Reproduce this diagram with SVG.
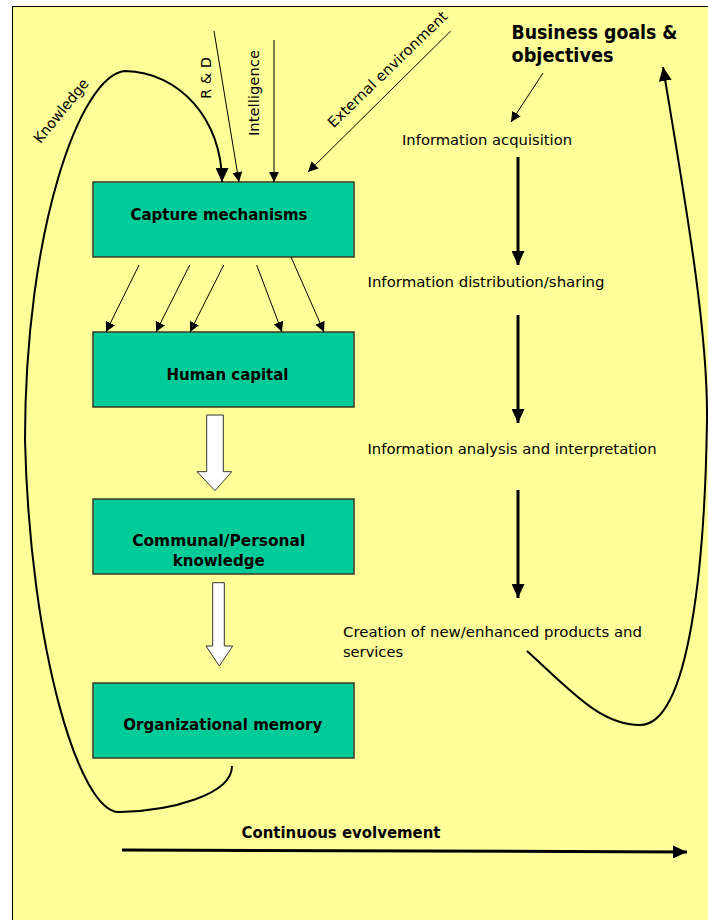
<svg xmlns="http://www.w3.org/2000/svg" width="708" height="920" viewBox="0 0 708 920">
  <defs>
    <style>
      .bg { fill: #FFFF99; stroke: #000; stroke-width: 1; }
      .box { fill: #00CC99; stroke: #3a3a2a; stroke-width: 1.5; }
      .lbl { font-family: "DejaVu Sans", Verdana, sans-serif; font-size: 14.5px; fill: #000; }
      .blbl { font-family: "DejaVu Sans", Verdana, sans-serif; font-size: 15.5px; font-weight: bold; fill: #000; }
      .thin { fill: none; stroke: #000; stroke-width: 1; }
      .mid { fill: none; stroke: #000; stroke-width: 2; }
      .thick { fill: none; stroke: #000; stroke-width: 3; }
      .block { fill: #fff; stroke: #333; stroke-width: 1; }
    </style>
    <marker id="ah" markerUnits="userSpaceOnUse" markerWidth="10" markerHeight="10" refX="10" refY="5" orient="auto">
      <path d="M0,0 L10,5 L0,10 z" fill="#000"/>
    </marker>
    <marker id="ahb" markerUnits="userSpaceOnUse" markerWidth="14" markerHeight="13" refX="14" refY="6.5" orient="auto">
      <path d="M0,0 L14,6.5 L0,13 z" fill="#000"/>
    </marker>
  </defs>

  <!-- page -->
  <rect class="bg" x="12.5" y="6.5" width="720" height="940"/>

  <!-- nodes -->
  <g id="capture">
    <rect class="box" x="93" y="182" width="261" height="75"/>
    <text class="blbl" x="219" y="219.5" text-anchor="middle" textLength="177" lengthAdjust="spacingAndGlyphs">Capture mechanisms</text>
  </g>
  <g id="human">
    <rect class="box" x="93" y="332" width="261" height="75"/>
    <text class="blbl" x="227.5" y="379.5" text-anchor="middle" textLength="122" lengthAdjust="spacingAndGlyphs">Human capital</text>
  </g>
  <g id="communal">
    <rect class="box" x="93" y="499" width="261" height="75"/>
    <text class="blbl" x="218.7" y="546" text-anchor="middle" textLength="173" lengthAdjust="spacingAndGlyphs">Communal/Personal</text>
    <text class="blbl" x="218.7" y="566" text-anchor="middle" textLength="92" lengthAdjust="spacingAndGlyphs">knowledge</text>
  </g>
  <g id="orgmemory">
    <rect class="box" x="93" y="683" width="261" height="75"/>
    <text class="blbl" x="222.8" y="729.5" text-anchor="middle" textLength="199" lengthAdjust="spacingAndGlyphs">Organizational memory</text>
  </g>

  <g id="goals">
    <text font-family="DejaVu Sans, Verdana, sans-serif" font-size="19" font-weight="bold" x="511.5" y="38.5" textLength="166" lengthAdjust="spacingAndGlyphs">Business goals &amp;</text>
    <text font-family="DejaVu Sans, Verdana, sans-serif" font-size="19" font-weight="bold" x="511.5" y="61.5" textLength="102" lengthAdjust="spacingAndGlyphs">objectives</text>
  </g>
  <g id="acquisition">
    <text class="lbl" x="402" y="145" textLength="170" lengthAdjust="spacingAndGlyphs">Information acquisition</text>
  </g>
  <g id="distribution">
    <text class="lbl" x="367.5" y="286.5" textLength="237" lengthAdjust="spacingAndGlyphs">Information distribution/sharing</text>
  </g>
  <g id="analysis">
    <text class="lbl" x="367.5" y="454" textLength="289" lengthAdjust="spacingAndGlyphs">Information analysis and interpretation</text>
  </g>
  <g id="creation">
    <text class="lbl" x="343" y="636.5" textLength="299" lengthAdjust="spacingAndGlyphs">Creation of new/enhanced products and</text>
    <text class="lbl" x="343" y="656.5" textLength="60" lengthAdjust="spacingAndGlyphs">services</text>
  </g>

  <!-- connectors -->
  <g id="connectors">
    <!-- inputs into capture mechanisms -->
    <line class="thin" x1="214" y1="31" x2="239" y2="182" marker-end="url(#ah)"/>
    <line class="thin" x1="274" y1="40" x2="274" y2="182" marker-end="url(#ah)"/>
    <line class="thin" x1="450.7" y1="31" x2="308" y2="172" marker-end="url(#ah)"/>
    <text class="lbl" transform="translate(211,78) rotate(-90)" text-anchor="middle" textLength="42" lengthAdjust="spacingAndGlyphs">R &amp; D</text>
    <text class="lbl" transform="translate(259,93) rotate(-90)" text-anchor="middle" textLength="86" lengthAdjust="spacingAndGlyphs">Intelligence</text>
    <text class="lbl" transform="translate(391,73) rotate(-44)" text-anchor="middle" textLength="160" lengthAdjust="spacingAndGlyphs">External environment</text>

    <!-- knowledge feedback loop -->
    <path class="mid" d="M232,766 C232,795 170,811 120,812 C80,815 30,650 25,440 C25,230 80,75 125,71 C180,72 222,120 222,182" marker-end="url(#ahb)"/>
    <text class="lbl" transform="translate(65,114) rotate(-51)" text-anchor="middle" textLength="78" lengthAdjust="spacingAndGlyphs">Knowledge</text>

    <!-- capture mechanisms to human capital -->
    <line class="thin" x1="139" y1="265" x2="106" y2="332" marker-end="url(#ah)"/>
    <line class="thin" x1="189.7" y1="265" x2="156" y2="332" marker-end="url(#ah)"/>
    <line class="thin" x1="223.7" y1="265" x2="190" y2="332" marker-end="url(#ah)"/>
    <line class="thin" x1="256.7" y1="265" x2="282" y2="332" marker-end="url(#ah)"/>
    <line class="thin" x1="291" y1="257" x2="324" y2="332" marker-end="url(#ah)"/>

    <!-- block arrows -->
    <path class="block" d="M206.7,415 H223.3 V471.7 H231.7 L215,490.7 L197,471.7 H206.7 Z"/>
    <path class="block" d="M212.7,582.7 H224.3 V646 H232.7 L219.3,666 L206,646 H212.7 Z"/>

    <!-- information cycle -->
    <line class="thin" x1="543" y1="73" x2="511" y2="122" marker-end="url(#ah)"/>
    <line class="thick" x1="518" y1="157" x2="518" y2="265" marker-end="url(#ahb)"/>
    <line class="thick" x1="518" y1="315" x2="518" y2="423" marker-end="url(#ahb)"/>
    <line class="thick" x1="518" y1="490" x2="518" y2="598" marker-end="url(#ahb)"/>
    <path class="mid" d="M527,651 C570,690 600,725 640,725 C690,725 705,560 707,420 C708,330 685,200 663,67" marker-end="url(#ahb)"/>

    <!-- continuous evolvement -->
    <line class="thick" x1="122" y1="850" x2="687" y2="852" marker-end="url(#ahb)"/>
    <text class="blbl" x="341" y="837.5" text-anchor="middle" textLength="199" lengthAdjust="spacingAndGlyphs">Continuous evolvement</text>
  </g>
</svg>
